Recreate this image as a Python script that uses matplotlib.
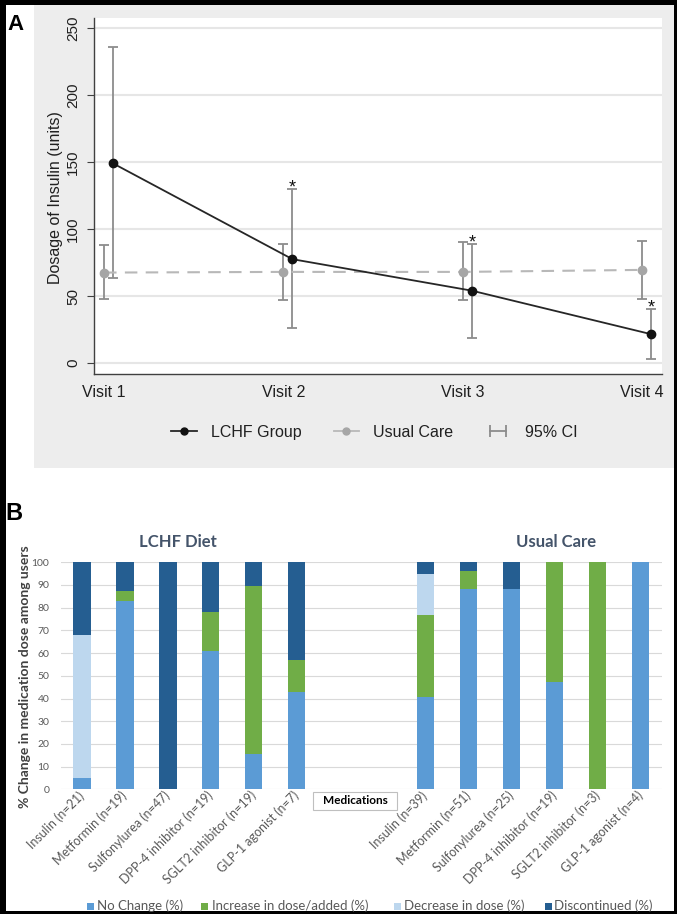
import numpy as np
import matplotlib
matplotlib.use("Agg")
import matplotlib.pyplot as plt
from matplotlib.lines import Line2D
from matplotlib.patches import Rectangle
from matplotlib.legend_handler import HandlerLine2D

W, H = 677, 914

# ---- panel A data: insulin dose by visit ----
visits = ["Visit 1", "Visit 2", "Visit 3", "Visit 4"]
lchf_mean = [149.0, 77.5, 54.0, 21.5]
lchf_lo = [63.5, 26.0, 19.0, 3.0]
lchf_hi = [235.5, 130.0, 89.0, 40.0]
uc_mean = [67.5, 68.0, 68.0, 69.5]
uc_lo = [47.5, 47.0, 47.0, 47.5]
uc_hi = [88.0, 89.0, 90.0, 91.0]
significant = [False, True, True, True]

# ---- panel B data: % change in medication dose among users ----
lchf_meds = ["Insulin (n=21)", "Metformin (n=19)", "Sulfonylurea (n=47)",
             "DPP-4 inhibitor (n=19)", "SGLT2 inhibitor (n=19)", "GLP-1 agonist (n=7)"]
uc_meds = ["Insulin (n=39)", "Metformin (n=51)", "Sulfonylurea (n=25)",
           "DPP-4 inhibitor (n=19)", "SGLT2 inhibitor (n=3)", "GLP-1 agonist (n=4)"]
no_change = [4.8, 83.0, 0.0, 60.8, 15.7, 42.9,
             40.8, 88.3, 88.1, 47.3, 0.0, 100.0]
increase = [0.0, 4.3, 0.0, 17.3, 73.7, 14.2,
            35.9, 7.9, 0.0, 52.7, 100.0, 0.0]
decrease = [63.2, 0.0, 0.0, 0.0, 0.0, 0.0,
            18.3, 0.0, 0.0, 0.0, 0.0, 0.0]
discontinued = [32.0, 12.7, 100.0, 21.9, 10.6, 42.9,
                5.0, 3.8, 11.9, 0.0, 0.0, 0.0]
series_names = ["No Change (%)", "Increase in dose/added (%)",
                "Decrease in dose (%)", "Discontinued (%)"]
series_colors = ["#5b9bd5", "#70ad47", "#bdd7ee", "#255e91"]


def fx(px):
    return px / W


def fy(py):
    return 1 - py / H


fig = plt.figure(figsize=(W / 100, H / 100), dpi=100)
fig.patch.set_facecolor("black")
fig.patches.append(Rectangle((fx(6), fy(911)), fx(674) - fx(6), fy(5) - fy(911),
                             transform=fig.transFigure, fc="white", ec="none", zorder=-10))
fig.patches.append(Rectangle((fx(34), fy(468)), fx(674) - fx(34), fy(5) - fy(468),
                             transform=fig.transFigure, fc="#ededed", ec="none", zorder=-9))

# ================= Panel A =================
sans = ["Liberation Sans", "DejaVu Sans"]
axA = fig.add_axes([fx(94), fy(374), fx(662) - fx(94), fy(18) - fy(374)])
axA.set_facecolor("white")
x = np.arange(1, len(visits) + 1)
xl = x + 0.05

um, ul, uh = map(np.array, (uc_mean, uc_lo, uc_hi))
lm, ll, lh = map(np.array, (lchf_mean, lchf_lo, lchf_hi))
ci_col = "#8c8c8c"
axA.errorbar(x, um, yerr=[um - ul, uh - um], fmt="none", ecolor=ci_col,
             elinewidth=1.3, capsize=3.5, capthick=1.3, zorder=2)
axA.errorbar(xl, lm, yerr=[lm - ll, lh - lm], fmt="none", ecolor=ci_col,
             elinewidth=1.3, capsize=3.5, capthick=1.3, zorder=2)
axA.plot(x, um, color="#b8b8b8", ls=(0, (6, 4)), lw=1.5, zorder=3)
axA.plot(x, um, "o", color="#a6a6a6", ms=6, zorder=4)
axA.plot(xl, lm, color="#262626", lw=1.3, zorder=3)
axA.plot(xl, lm, "o", color="#111111", ms=6, zorder=4)
for xi, hi, s in zip(xl, lh, significant):
    if s:
        axA.text(xi, hi - 2.5, "*", ha="center", va="baseline", fontsize=13,
                 family=sans, color="#111111")

axA.set_xlim(0.944, 4.11)
axA.set_ylim(-8.2, 257.5)
axA.set_yticks(np.arange(0, 251, 50))
axA.set_xticks(x)
axA.set_xticklabels(visits)
for sp in ("top", "right"):
    axA.spines[sp].set_visible(False)
for sp in ("left", "bottom"):
    axA.spines[sp].set_color("#404040")
    axA.spines[sp].set_linewidth(1.0)
axA.yaxis.grid(True, color="#e6e6e6", lw=1.5)
axA.set_axisbelow(True)
axA.tick_params(axis="y", length=5, color="#404040", pad=5, labelsize=11, labelcolor="#202020")
axA.tick_params(axis="x", length=0, pad=8, labelsize=11.5, labelcolor="#202020")
for t in axA.get_yticklabels():
    t.set_rotation(90)
    t.set_va("center")
    t.set_family(sans)
for t in axA.get_xticklabels():
    t.set_family(sans)
axA.set_ylabel("Dosage of Insulin (units)", fontsize=11.5, family=sans, color="#202020")
axA.yaxis.set_label_coords(-0.067, 0.496)
axA.yaxis.label.set_va("center")

h_lchf = Line2D([], [], color="#262626", lw=1.3, marker="o", ms=5, mfc="#111111", mec="#111111")
h_uc = Line2D([], [], color="#b8b8b8", lw=1.3, marker="o", ms=5, mfc="#a6a6a6", mec="#a6a6a6")
h_ci = Line2D([], [], color=ci_col, lw=1.3, marker="|", ms=8, mew=1.3)
legA = axA.legend([h_lchf, h_uc, h_ci], ["LCHF Group", "Usual Care", "95% CI"],
                  handler_map={h_ci: HandlerLine2D(numpoints=2)},
                  loc="center", bbox_to_anchor=(0.494, -0.163), ncol=3, frameon=False,
                  handlelength=1.6, handletextpad=0.9, columnspacing=2.0,
                  prop={"family": sans, "size": 11.5})
for t in legA.get_texts():
    t.set_color("#202020")

# ================= Panel B =================
lato = ["Lato", "DejaVu Sans"]
axB = fig.add_axes([fx(60.5), fy(789.3), fx(662) - fx(60.5), fy(562.3) - fy(789.3)])
pos = np.r_[0:6, 8:14]
bottom = np.zeros(len(pos))
for vals, name, col in zip([no_change, increase, decrease, discontinued],
                           series_names, series_colors):
    vals = np.array(vals)
    axB.bar(pos, vals, width=0.4, bottom=bottom, color=col, label=name, zorder=3)
    bottom += vals

axB.set_xlim(-0.5, 13.5)
axB.set_ylim(0, 100)
axB.set_yticks(np.arange(0, 101, 10))
axB.set_xticks(pos)
axB.set_xticklabels(lchf_meds + uc_meds)
for sp in axB.spines.values():
    sp.set_visible(False)
axB.yaxis.grid(True, color="#d9d9d9", lw=0.8, zorder=0)
axB.set_axisbelow(True)
axB.tick_params(axis="both", length=0)
axB.tick_params(axis="y", pad=8, labelsize=7.5, labelcolor="#595959")
axB.tick_params(axis="x", pad=3, labelsize=9, labelcolor="#595959")
for t in axB.get_yticklabels():
    t.set_family(lato)
for t in axB.get_xticklabels():
    t.set_family(lato)
    t.set_rotation(45)
    t.set_ha("right")
    t.set_va("center")
    t.set_rotation_mode("anchor")

axB.text(2.23, 109, "LCHF Diet", ha="center", va="center", fontsize=12,
         weight="bold", family=lato, color="#44546a", clip_on=False)
axB.text(11.04, 109, "Usual Care", ha="center", va="center", fontsize=12,
         weight="bold", family=lato, color="#44546a", clip_on=False)

fig.text(fx(25), fy(676.5), "% Change in medication dose among users", rotation=90,
         ha="center", va="center", fontsize=10, weight="bold", family=lato, color="#404040")

fig.patches.append(Rectangle((fx(313), fy(810)), fx(397) - fx(313), fy(792) - fy(810),
                             transform=fig.transFigure, fc="white", ec="#bfbfbf", lw=0.8))
fig.text(fx(355), fy(801), "Medications", ha="center", va="center", fontsize=8.5,
         weight="bold", family=lato, color="black")

# legend for panel B
for sx, tx, name, col in zip([90, 204.5, 397.5, 548.5], [97, 212, 404, 554],
                             series_names, series_colors):
    fig.patches.append(Rectangle((fx(sx - 3.5), fy(906 + 3.5)), 7 / W, 7 / H,
                                 transform=fig.transFigure, fc=col, ec="none"))
    fig.text(fx(tx), fy(905.7), name, ha="left", va="center", fontsize=9.5,
             family=lato, color="#595959")

narrow = ["Liberation Sans Narrow", "Liberation Sans", "DejaVu Sans"]
fig.text(fx(7), fy(30), "A", fontsize=16, weight="bold", family=narrow, color="black")
fig.text(fx(5), fy(520), "B", fontsize=17, weight="bold", family=narrow, color="black")

fig.savefig("out.png", dpi=100, facecolor=fig.get_facecolor())
